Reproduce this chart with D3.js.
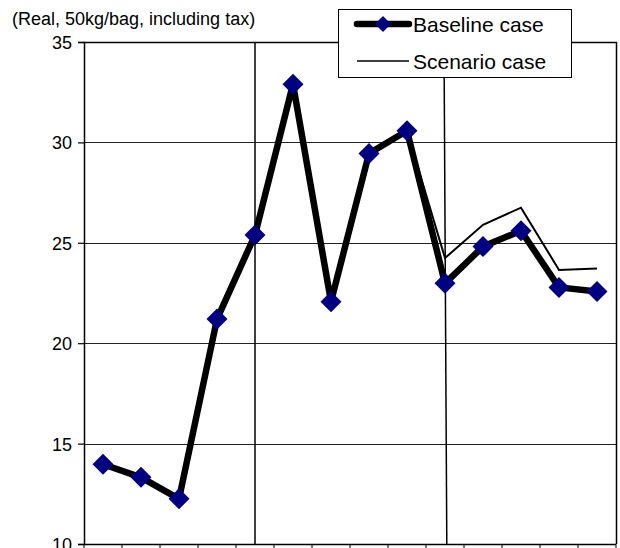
<!DOCTYPE html>
<html>
<head>
<meta charset="utf-8">
<script src="https://cdn.jsdelivr.net/npm/d3@7"></script>
<style>
  html, body { margin: 0; padding: 0; background: #fff; }
  svg { display: block; font-family: "Liberation Sans", Arial, sans-serif; }
</style>
</head>
<body>
<svg id="chart" width="620" height="548"></svg>
<script>
// Periods along the x axis (unlabelled on the chart)
const periods = ["1", "2", "3", "4", "5", "6", "7", "8", "9", "10", "11", "12", "13", "14"];

// Price per 50kg bag, real terms, including tax
const baselineCase = [13.97, 13.32, 12.25, 21.2, 25.39, 32.9, 22.07, 29.45, 30.58, 22.98, 24.81, 25.6, 22.78, 22.57];
const scenarioCase = [null, null, null, null, null, null, null, null, 30.58, 24.24, 25.9, 26.75, 23.65, 23.72];

// Y axis ticks
const yTicks = [10, 15, 20, 25, 30, 35];

// Periods where the vertical separators are drawn
const separators = ["5", "10"];

const unitLabel = "(Real, 50kg/bag, including tax)";
const seriesNames = ["Baseline case", "Scenario case"];

const svg = d3.select("#chart");
const plotL = 84, plotR = 616, plotT = 42, plotB = 544;

const x = d3.scaleBand().domain(periods).range([plotL, plotR]).padding(0);
const y = d3.scaleLinear().domain([10, 35]).range([plotB, plotT]);
const cx = p => x(p) + x.bandwidth() / 2;

// Horizontal gridlines
svg.append("g")
  .selectAll("line")
  .data(yTicks.filter(t => t > 10 && t < 35))
  .join("line")
  .attr("x1", plotL).attr("x2", plotR)
  .attr("y1", d => Math.round(y(d)) + 0.5).attr("y2", d => Math.round(y(d)) + 0.5)
  .attr("stroke", "#222").attr("stroke-width", 1);

// Plot frame: top and right edges
svg.append("path")
  .attr("d", `M${plotL},${plotT + 0.5}H${plotR + 0.5}V${plotB}`)
  .attr("fill", "none").attr("stroke", "#000").attr("stroke-width", 1.5);

// Y axis
const yAxis = d3.axisLeft(y).tickValues(yTicks).tickSize(6).tickPadding(6).tickFormat(d3.format("d"));
const gy = svg.append("g").attr("transform", `translate(${plotL},0)`).call(yAxis);
gy.select(".domain").attr("stroke", "#000").attr("stroke-width", 1.5);
gy.selectAll(".tick line").attr("stroke", "#000").attr("stroke-width", 1.2);
gy.selectAll(".tick text")
  .attr("fill", "#000").attr("font-size", 18)
  .attr("font-family", "Liberation Sans, Arial, sans-serif")
  .attr("dy", "0.36em");

// X axis with ticks at the category boundaries
const xEdges = periods.map(p => x(p)).concat([plotR]);
svg.append("line")
  .attr("x1", plotL).attr("x2", plotR).attr("y1", plotB + 0.5).attr("y2", plotB + 0.5)
  .attr("stroke", "#000").attr("stroke-width", 1.5);
svg.append("g").selectAll("line").data(xEdges).join("line")
  .attr("x1", d => d).attr("x2", d => d)
  .attr("y1", plotB).attr("y2", plotB + 5)
  .attr("stroke", "#000").attr("stroke-width", 1);

// Vertical separators through the marked periods
svg.append("line")
  .attr("x1", cx(separators[0])).attr("x2", cx(separators[0]))
  .attr("y1", plotT).attr("y2", plotB)
  .attr("stroke", "#000").attr("stroke-width", 1.5);
svg.append("line")
  .attr("x1", cx(separators[1]) - 1).attr("x2", cx(separators[1]) + 1.8)
  .attr("y1", plotT).attr("y2", plotB)
  .attr("stroke", "#000").attr("stroke-width", 1.5);

// Scenario line (thin)
const lineGen = d3.line()
  .defined(d => d.v != null)
  .x(d => cx(d.p)).y(d => y(d.v));
svg.append("path")
  .datum(periods.map((p, i) => ({ p, v: scenarioCase[i] })))
  .attr("d", lineGen)
  .attr("fill", "none").attr("stroke", "#000").attr("stroke-width", 2)
  .attr("stroke-linejoin", "miter");

// Baseline line (thick) with diamond markers
const baseData = periods.map((p, i) => ({ p, v: baselineCase[i] }));
svg.append("path")
  .datum(baseData)
  .attr("d", lineGen)
  .attr("fill", "none").attr("stroke", "#000").attr("stroke-width", 6.5)
  .attr("stroke-linejoin", "round");

const r = 10.5;
const diamond = `M0,${-r}L${r},0L0,${r}L${-r},0Z`;
svg.append("g").selectAll("path").data(baseData).join("path")
  .attr("d", diamond)
  .attr("transform", d => `translate(${cx(d.p)},${y(d.v)})`)
  .attr("fill", "#000080");

// Unit label
svg.append("text")
  .attr("x", 12).attr("y", 25)
  .attr("font-size", 18).attr("fill", "#000")
  .text(unitLabel);

// Legend
const lg = svg.append("g");
lg.append("rect")
  .attr("x", 338.5).attr("y", 9.5).attr("width", 233).attr("height", 68)
  .attr("fill", "#fff").attr("stroke", "#000").attr("stroke-width", 1);
lg.append("line")
  .attr("x1", 357).attr("x2", 409).attr("y1", 24).attr("y2", 24)
  .attr("stroke", "#000").attr("stroke-width", 6.5).attr("stroke-linecap", "round");
lg.append("path").attr("d", `M0,-8L8,0L0,8L-8,0Z`)
  .attr("transform", "translate(383,24)").attr("fill", "#000080");
lg.append("line")
  .attr("x1", 357).attr("x2", 409).attr("y1", 61).attr("y2", 61)
  .attr("stroke", "#000").attr("stroke-width", 1.6);
lg.selectAll("text").data(seriesNames).join("text")
  .attr("x", 413).attr("y", (d, i) => 32 + i * 37)
  .attr("font-size", 21).attr("fill", "#000")
  .text(d => d);
</script>
</body>
</html>
